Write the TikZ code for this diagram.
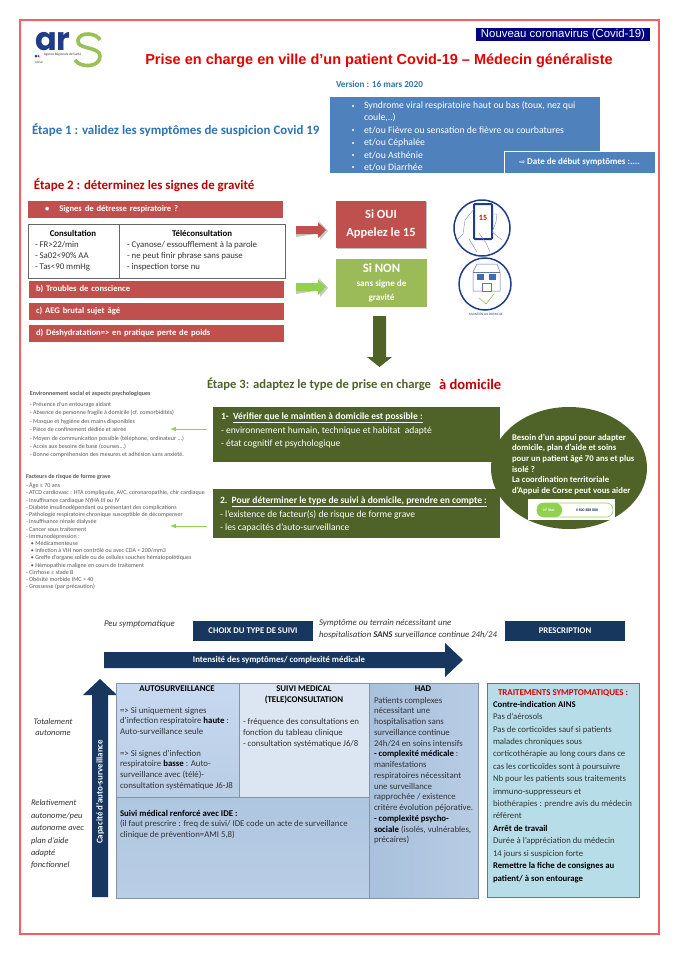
\documentclass[tikz,border=0pt]{standalone}
\usepackage{fontspec}
\setmainfont{Carlito}
\newfontfamily\arialfont{Liberation Sans}
\newfontfamily\logofont{Poppins}
\newfontfamily\symbolfont{DejaVu Sans}
\usepackage{tikz}
\usetikzlibrary{positioning, calc, shapes.geometric, shadows}
\definecolor{framered}{HTML}{F26065}
\definecolor{barred}{HTML}{C0504D}
\definecolor{darkred}{HTML}{C00000}
\definecolor{steelblue}{HTML}{4F81BD}
\definecolor{stepblue}{HTML}{2E74B5}
\definecolor{olive}{HTML}{4F6228}
\definecolor{leaf}{HTML}{9BBB59}
\definecolor{brightleaf}{HTML}{92D050}
\definecolor{navy}{HTML}{17375E}
\definecolor{iconblue}{HTML}{1F3C88}
\definecolor{gridline}{HTML}{8294A8}
\definecolor{inktext}{HTML}{333333}
\definecolor{autotop}{HTML}{C6D9F1}
\definecolor{autolow}{HTML}{B9CDE5}
\definecolor{suivifill}{HTML}{DCE6F2}
\definecolor{hadleft}{HTML}{A9C1DC}
\definecolor{hadright}{HTML}{B8CCE4}
\definecolor{nursetop}{HTML}{AFC6E0}
\definecolor{treatfill}{HTML}{B7DDE8}

\begin{document}
\begin{tikzpicture}[
  x=1pt, y=-1pt,
  every node/.style={inner sep=0pt, outer sep=0pt, align=left, text=inktext},
  redbar/.style={anchor=north west, fill=barred, draw=white, line width=0.6pt, minimum width=256pt, minimum height=18pt,
    drop shadow={shadow xshift=1pt, shadow yshift=-1pt, fill=gray!70, opacity=0.7},
    text=white, font=\fontsize{8.6}{10}\selectfont\bfseries, text width=240pt, inner xsep=8pt},
  whitebox/.style={anchor=north west, draw=black!60, line width=0.8pt, fill=white},
  listtext/.style={anchor=north west, font=\fontsize{8.8}{10.9}\selectfont},
  listhead/.style={font=\fontsize{8.8}{10}\selectfont\bfseries, text=black},
  stepbox/.style={anchor=north west, fill=olive, minimum width=287pt},
  steptext/.style={anchor=north west, text=white, font=\fontsize{9.55}{13.5}\selectfont},
  bullettext/.style={anchor=west, text=white, font=\fontsize{9.75}{11}\selectfont},
  navybox/.style={anchor=north west, fill=navy, minimum width=120pt, minimum height=20pt, text=white, align=center, font=\fontsize{8.7}{10}\selectfont\bfseries},
  cell/.style={anchor=north west, draw=gridline, line width=0.7pt},
  celltext/.style={anchor=north west, font=\fontsize{8.8}{10.75}\selectfont},
  cellhead/.style={font=\fontsize{8.8}{10.75}\selectfont\bfseries, text=black},
  sidetext/.style={font=\fontsize{8.5}{#1}\selectfont\itshape},
  smalltext/.style={anchor=north west, text=black!65, font=\fontsize{6.05}{#1}\selectfont},
  thinarrow/.style={draw=brightleaf, line width=1pt, -latex}
]
\useasboundingbox (0,0) rectangle (674,954);
\fill[white] (0,0) rectangle (674,954);
\draw[framered, line width=1.4pt] (20,20) rectangle (659,934);

% logo
\node[anchor=base west, text depth=0pt, font=\fontsize{32}{32}\selectfont\logofont\bfseries, text=iconblue] (arsname) at (35,50) {ar};
\draw[leaf!70!brightleaf, line width=3.6pt] (100,40) .. controls (97,33) and (80,31) .. (78,40) .. controls (76,50) and (100,46) .. (100,56) .. controls (100,68) and (80,68) .. (75,60);
\fill[iconblue] (36,56) circle (1.5pt);
\fill[red] (38.5,56) circle (1pt);
\node[anchor=west, font=\fontsize{3.4}{4}\selectfont] (arsagency) at (44,55) {Agence Régionale de Santé};
\node[anchor=west, font=\fontsize{3.4}{4}\selectfont] (arsregion) at (35,62) {Corse};

% header
\node[anchor=north west, fill=blue!50!black, minimum width=174pt, minimum height=13pt, text=white, align=center, font=\fontsize{11.4}{13}\selectfont\arialfont] (banner) at (476,28) {Nouveau coronavirus (Covid-19)};
\node[text=red!90!black, font=\fontsize{14.5}{17}\selectfont\arialfont\bfseries] (maintitle) at (379,61) {Prise en charge en ville d’un patient Covid-19 – Médecin généraliste};
\node[anchor=west, text=stepblue, font=\fontsize{9.2}{10}\selectfont\bfseries] (version) at (336,84) {Version : 16 mars 2020};

% etape 1
\node[anchor=west, text=stepblue, font=\fontsize{12.9}{16}\selectfont\bfseries] (step1) at (32,130) {Étape 1 : validez les symptômes de suspicion Covid 19};
\node[anchor=north west, fill=steelblue, draw=white, line width=0.6pt, minimum width=271pt, minimum height=77pt] (symptoms) at (329,96) {};
\node[bullettext] (symptoma) at (364,106) {Syndrome viral respiratoire haut ou bas (toux, nez qui};
\node[bullettext] (symptomb) at (364,118) {coule,..)};
\node[bullettext] (symptomc) at (364,130) {et/ou Fièvre ou sensation de fièvre ou courbatures};
\node[bullettext] (symptomd) at (364,143) {et/ou Céphalée};
\node[bullettext] (symptome) at (364,155) {et/ou Asthénie};
\node[bullettext] (symptomf) at (364,167) {et/ou Diarrhée};
\foreach \yy in {106,130,143,155,167}
  \fill[white] (353,\yy) circle (1.2pt);
\node[anchor=north west, fill=steelblue, draw=white, line width=1pt, minimum width=151pt, minimum height=22pt, inner xsep=7pt, text=white, font=\fontsize{9}{10}\selectfont\bfseries] (onset) at (504,151) {{\symbolfont\fontsize{7}{8}\selectfont ⇨} Date de début symptômes :....};

% etape 2
\node[anchor=west, text=darkred, font=\fontsize{12.9}{16}\selectfont\bfseries] (step2) at (34,185) {Étape 2 : déterminez les signes de gravité};
\node[redbar] (distress) at (27,200) {\hspace{10pt}\textbullet\hspace{10pt}Signes de détresse respiratoire ?};
\node[whitebox, minimum width=91pt, minimum height=54pt] (consult) at (28,224) {};
\node[whitebox, minimum width=166pt, minimum height=54pt, right=0pt of consult] (teleconsult) {};
\node[listhead] (consulthead) at (73,233) {Consultation};
\node[listtext] (consultlist) at (35,241.5) {- FR>22/min\\- Sa02<90\% AA\\- Tas<90 mmHg};
\node[listhead] (telehead) at (202,233) {Téléconsultation};
\node[listtext] (telelist) at (127,241.5) {- Cyanose/ essoufflement à la parole\\- ne peut finir phrase sans pause\\- inspection torse nu};
\node[redbar] (troubles) at (28,280) {b) Troubles de conscience};
\node[redbar] (aeg) at (28,302) {c) AEG brutal sujet âgé};
\node[redbar] (dehydrat) at (28,324) {d) Déshydratation=> en pratique perte de poids};

% block arrows
\fill[gray!45] (296,233) -- (320,233) -- (320,240) -- (328,231) -- (318,220) -- (326,232) -- (296,237) -- cycle;
\fill[barred] (296,226) -- (318,226) -- (318,222) -- (326,230) -- (318,238) -- (318,234) -- (296,234) -- cycle;
\fill[gray!45] (296,290) -- (320,290) -- (320,297) -- (328,288) -- (318,277) -- (326,289) -- (296,294) -- cycle;
\fill[brightleaf] (296,283) -- (318,283) -- (318,279) -- (326,287) -- (318,295) -- (318,291) -- (296,291) -- cycle;

\node[anchor=north west, fill=barred, minimum width=90pt, minimum height=47pt, text=white, align=center, font=\fontsize{12.5}{18}\selectfont\bfseries,
  drop shadow={shadow xshift=1pt, shadow yshift=-1.2pt, fill=gray!70, opacity=0.7}] (sioui) at (336,201) {Si OUI\\Appelez le 15};
\node[anchor=north west, fill=leaf, minimum width=91pt, minimum height=48pt, text=white, align=center, font=\fontsize{9.1}{14}\selectfont\bfseries] (sinon) at (336,259) {{\fontsize{12.7}{14}\selectfont Si NON}\\sans signe de\\gravité};
\fill[olive] (373,316) -- (386,316) -- (386,357) -- (392,357) -- (379.5,367) -- (367,357) -- (373,357) -- cycle;

% icons
\draw[iconblue, line width=1.5pt] (482,228) circle (28);
\draw[iconblue, line width=2pt, rounded corners=1pt, fill=white] (474,204) rectangle (492,239);
\node[text=red!85!black, font=\fontsize{8}{9}\selectfont\bfseries] (phonenum) at (483,218) {15};
\draw[iconblue!60, line width=0.4pt, line join=round] (474,209) -- (465,220) -- (463,234) -- (457,240);
\draw[iconblue!60, line width=0.4pt, line join=round] (492,214) -- (497,214) -- (496,222) -- (492,232) -- (502,240);
\draw[iconblue!60, line width=0.4pt, line join=round] (479,233) -- (486,243) -- (490,252);
\draw[iconblue!60, line width=0.4pt, line join=round] (469,239) -- (477,252);
\draw[iconblue, line width=1.5pt] (485,284) circle (26);
\draw[iconblue!70, line width=0.5pt, line join=round] (473,291) -- (473,272) -- (477,264) -- (497,264) -- (500,272) -- (500,291) -- cycle;
\draw[iconblue!70, line width=0.5pt] (473,272) -- (500,272);
\fill[steelblue!70!iconblue] (477,274) rectangle (484,280);
\fill[steelblue!70!iconblue] (489,274) rectangle (496,280);
\draw[iconblue!70, line width=0.5pt, fill=white] (482,283) rectangle (491,291);
\draw[leaf, line width=0.6pt] (479,298) -- (486,304) -- (494,294);
\node[text=iconblue, font=\fontsize{3.4}{4}\selectfont] (homelabel) at (486,314) {MAINTIEN AU DOMICILE};

% etape 3
\node[anchor=west, text=olive, font=\fontsize{12.6}{16}\selectfont\bfseries] (step3) at (207,384) {Étape 3: adaptez le type de prise en charge};
\node[anchor=west, text=darkred, font=\fontsize{14.6}{16}\selectfont\bfseries] (athome) at (439,384) {à domicile};

\node[smalltext=8.45] (socialtext) at (30,391) {{\bfseries Environnement social et aspects psychologiques}\\[2.5pt]- Présence d’un entourage aidant\\- Absence de personne fragile à domicile (cf. comorbidités)\\- Masque et hygiène des mains disponibles\\- Pièce de confinement dédiée et aérée\\- Moyen de communication possible (téléphone, ordinateur ...)\\- Accès aux besoins de base (courses...)\\- Bonne compréhension des mesures et adhésion sans anxiété.};
\node[smalltext=7.21] (risktext) at (26,474.5) {{\bfseries Facteurs de risque de forme grave}\\[1.8pt]- Âge ≥ 70 ans\\- ATCD cardiovasc : HTA compliquée, AVC, coronaropathie, chir cardiaque\\- Insuffisance cardiaque NYHA III ou IV\\- Diabète insulinodépendant ou présentant des complications\\- Pathologie respiratoire chronique susceptible de décompenser\\- Insuffisance rénale dialysée\\- Cancer sous traitement\\- Immunodépression :\\\hspace{5pt}• Médicamenteuse\\\hspace{5pt}• Infection à VIH non contrôlé ou avec CDA < 200/mm3\\\hspace{5pt}• Greffe d’organe solide ou de cellules souches hématopoïétiques\\\hspace{5pt}• Hémopathie maligne en cours de traitement\\- Cirrhose ≥ stade B\\- Obésité morbide IMC > 40\\- Grossesse (par précaution)};

\node[stepbox, minimum height=55pt] (homecheck) at (213,407) {};
\node[stepbox, minimum height=49pt] (followup) at (213,489) {};
\node[steptext] (homechecktext) at (221,413) {{\bfseries 1-\ \ \underline{Vérifier que le maintien à domicile est possible :}}\\- environnement humain, technique et habitat\ \ adapté\\- état cognitif et psychologique};
\node[steptext] (followuptext) at (220,497) {{\bfseries 2.\ \ \underline{Pour déterminer le type de suivi à domicile, prendre en compte :}}\\- l’existence de facteur(s) de risque de forme grave\\- les capacités d’auto-surveillance};
\draw[thinarrow] ($(homecheck.west)+(-6pt,-5.5)$) -- +(-37pt,0) coordinate (socialend);
\draw[thinarrow] ($(followup.west)+(-6pt,12.5)$) -- +(-37pt,0) coordinate (riskend);

\node[ellipse, fill=olive, minimum width=156pt, minimum height=122pt] (support) at (569,468) {};
\node[anchor=north west, text=white, font=\fontsize{8.7}{10.65}\selectfont\bfseries] (supporttext) at (512,434) {Besoin d’un appui pour adapter\\domicile, plan d’aide et soins\\pour un patient âgé 70 ans et plus\\isolé ?\\La coordination territoriale\\d’Appui de Corse peut vous aider};
\node[anchor=north west, fill=white, minimum width=87pt, minimum height=21pt] (hotlinebg) at (528,499) {};
\draw[brightleaf, line width=0.6pt, rounded corners=6.5pt] (537,503) rectangle (613,517);
\fill[brightleaf, rounded corners=6.5pt] (537,503) rectangle (562,517);
\node[text=white, font=\fontsize{3.8}{5}\selectfont\bfseries] (hotlinetag) at (549,510) {N° Vert};
\node[text=navy, font=\fontsize{3.8}{5}\selectfont\bfseries] (hotlinenum) at (587,510) {0 800 888 888};

% tableau
\node[anchor=west, font=\fontsize{8.8}{10}\selectfont\itshape] (leastsick) at (104,624.5) {Peu symptomatique};
\node[navybox] (choice) at (193,621) {CHOIX DU TYPE DE SUIVI};
\node[anchor=north west, font=\fontsize{8.8}{12.4}\selectfont\itshape] (sickest) at (319,619) {Symptôme ou terrain nécessitant une\\hospitalisation {\bfseries SANS} surveillance continue 24h/24};
\node[navybox] (prescription) at (505,621) {PRESCRIPTION};

\fill[navy] (104,652) -- (445,652) -- (445,643) -- (463,660) -- (445,677) -- (445,668) -- (104,668) -- cycle;
\node[text=white, font=\fontsize{8.8}{10}\selectfont\bfseries] (intensity) at (279,660) {Intensité des symptômes/ complexité médicale};
\fill[navy] (92,897) -- (92,695) -- (83,695) -- (100,679) -- (117,695) -- (108,695) -- (108,897) -- cycle;
\node[rotate=90, text=white, font=\fontsize{8.9}{10}\selectfont\bfseries] (capacity) at (100,792) {Capacité d’auto-surveillance};

\node[cell, top color=autotop, bottom color=autolow, minimum width=123pt, minimum height=114pt] (autocell) at (116,683) {};
\node[cell, fill=suivifill, minimum width=130pt, minimum height=114pt, right=0pt of autocell] (suivicell) {};
\node[cell, left color=hadleft, right color=hadright, minimum width=109pt, minimum height=215pt] (hadcell) at (369,683) {};
\node[cell, top color=nursetop, bottom color=autolow, minimum width=253pt, minimum height=101pt, below=0pt of autocell.south west, anchor=north west] (nursecell) {};

\node[cellhead] (autohead) at (177,689) {AUTOSURVEILLANCE};
\node[celltext] (autotext) at (120,707) {=> Si uniquement signes\\d’infection respiratoire {\bfseries\color{black}haute} :\\Auto-surveillance seule\\[10.75pt]=> Si signes d’infection\\respiratoire {\bfseries\color{black}basse} : Auto-\\surveillance avec (télé)-\\consultation systématique J6-J8};
\node[cellhead, align=center, anchor=north] (suivihead) at (304,686) {SUIVI MEDICAL\\(TELE)CONSULTATION};
\node[celltext] (suivitext) at (243,718.5) {- fréquence des consultations en\\fonction du tableau clinique\\- consultation systématique J6/8};
\node[cellhead] (hadhead) at (423,689) {HAD};
\node[celltext] (hadtext) at (374,697) {Patients complexes\\nécessitant une\\hospitalisation sans\\surveillance continue\\24h/24 en soins intensifs\\{\bfseries\color{black}- complexité médicale} :\\manifestations\\respiratoires nécessitant\\une surveillance\\rapprochée / existence\\critère évolution péjorative.\\{\bfseries\color{black}- complexité psycho-}\\{\bfseries\color{black}sociale} (isolés, vulnérables,\\précaires)};
\node[celltext] (nursetext) at (120,810) {{\bfseries\color{black}Suivi médical renforcé avec IDE :}\\(il faut prescrire : freq de suivi/ IDE code un acte de surveillance\\clinique de prévention=AMI 5,8)};

\node[sidetext=11, align=center, anchor=north] (autonomous) at (53,718.5) {Totalement\\autonome};
\node[sidetext=12.4, anchor=north west] (lessautonomous) at (31,800) {Relativement\\autonome/peu\\autonome avec\\plan d’aide\\adapté\\fonctionnel};

\node[cell, draw=black!55, fill=treatfill, minimum width=152pt, minimum height=214pt] (treatcell) at (487,683) {};
\node[anchor=north, text=red!85!black, font=\fontsize{8.9}{10}\selectfont\bfseries] (treathead) at (563,689.5) {TRAITEMENTS SYMPTOMATIQUES :};
\node[anchor=north west, font=\fontsize{8.75}{12.42}\selectfont] (treattext) at (493,701) {{\bfseries\color{black}Contre-indication AINS}\\Pas d’aérosols\\Pas de corticoïdes sauf si patients\\malades chroniques sous\\corticothérapie au long cours dans ce\\cas les corticoïdes sont à poursuivre\\Nb pour les patients sous traitements\\immuno-suppresseurs et\\biothérapies : prendre avis du médecin\\référent\\{\bfseries\color{black}Arrêt de travail}\\Durée à l’appréciation du médecin\\14 jours si suspicion forte\\{\bfseries\color{black}Remettre la fiche de consignes au}\\{\bfseries\color{black}patient/ à son entourage}};
\end{tikzpicture}
\end{document}
